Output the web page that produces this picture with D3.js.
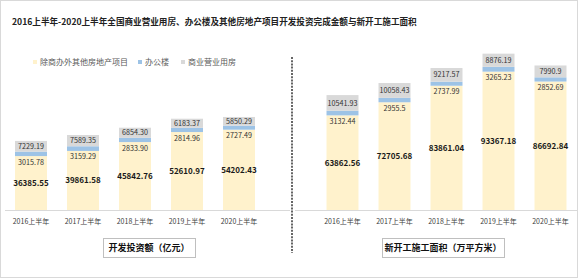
<!DOCTYPE html>
<html>
<head>
<meta charset="utf-8">
<script src="https://cdn.jsdelivr.net/npm/d3@7"></script>
<style>
  body { margin: 0; background: #fff; }
  svg { display: block; font-family: "Noto Sans CJK SC", "Noto Sans", sans-serif; }
</style>
</head>
<body>
<svg id="chart" width="580" height="280"></svg>
<script>
// categories
var years = [ '2016上半年', '2017上半年', '2018上半年', '2019上半年', '2020上半年' ];

// 开发投资额（亿元）
var investOther = [ 36385.55, 39861.58, 45842.76, 52610.97, 54202.43 ];
var investOffice = [ 3015.78, 3159.29, 2833.90, 2814.96, 2727.49 ];
var investShop = [ 7229.19, 7589.35, 6854.30, 6183.37, 5850.29 ];

// 新开工施工面积（万平方米）
var areaOther = [ 63862.56, 72705.68, 83861.04, 93367.18, 86692.84 ];
var areaOffice = [ 3132.44, 2955.5, 2737.99, 3265.23, 2852.69 ];
var areaShop = [ 10541.93, 10058.43, 9217.57, 8876.19, 7990.9 ];

var seriesNames = [ '除商办外其他房地产项目', '办公楼', '商业营业用房' ];
var colors = [ '#fff2cc', '#9dc3e6', '#d9d9d9' ];

var svg = d3.select( '#chart' );

// outer frame
svg.append( 'rect' )
	.attr( 'x', 0.5 ).attr( 'y', 0.5 )
	.attr( 'width', 577 ).attr( 'height', 277 )
	.attr( 'fill', '#fff' ).attr( 'stroke', '#d9d9d9' );

svg.append( 'text' )
	.attr( 'x', 12 ).attr( 'y', 25 )
	.attr( 'font-size', 8.6 ).attr( 'font-weight', 'bold' ).attr( 'fill', '#222' )
	.text( '2016上半年-2020上半年全国商业营业用房、办公楼及其他房地产项目开发投资完成金额与新开工施工面积' );

// legend
var legend = svg.append( 'g' ).attr( 'transform', 'translate(33,62)' );
var legX = [ 0, 105, 148 ];
seriesNames.forEach( function( _n, i ) {
	var g = legend.append( 'g' ).attr( 'transform', 'translate(' + legX[ i ] + ',0)' );
	g.append( 'rect' ).attr( 'x', 0 ).attr( 'y', -2 ).attr( 'width', 4 ).attr( 'height', 4 ).attr( 'fill', colors[ i ] );
	g.append( 'text' ).attr( 'x', 7 ).attr( 'y', 3 )
		.attr( 'font-size', 8 ).attr( 'fill', '#595959' ).text( _n );
} );

// shared value scale
var y = d3.scaleLinear().domain( [ 0, 110000 ] ).range( [ 210, 47 ] );

function drawPanel( _other, _office, _shop, _fmt, _range, _axisRange, _title, _box ) {
	var x = d3.scaleBand().domain( years ).range( _range ).paddingInner( 0.385 ).paddingOuter( 0.1925 );

	var rows = years.map( function( _y, i ) {
		return { year: _y, other: _other[ i ], office: _office[ i ], shop: _shop[ i ] };
	} );
	var stack = d3.stack().keys( [ 'other', 'office', 'shop' ] )( rows );

	var g = svg.append( 'g' );

	stack.forEach( function( _s, k ) {
		g.selectAll( null ).data( _s ).enter().append( 'rect' )
			.attr( 'x', function( _d ) { return x( _d.data.year ); } )
			.attr( 'y', function( _d ) { return y( _d[ 1 ] ); } )
			.attr( 'width', x.bandwidth() )
			.attr( 'height', function( _d ) { return y( _d[ 0 ] ) - y( _d[ 1 ] ); } )
			.attr( 'fill', colors[ k ] );
	} );

	// yellow segment labels, bold in the middle
	g.selectAll( null ).data( stack[ 0 ] ).enter().append( 'text' )
		.attr( 'x', function( _d ) { return x( _d.data.year ) + x.bandwidth() / 2; } )
		.attr( 'y', function( _d ) { return ( y( _d[ 0 ] ) + y( _d[ 1 ] ) ) / 2 + 3; } )
		.attr( 'text-anchor', 'middle' ).attr( 'font-size', 8 ).attr( 'font-weight', 'bold' ).attr( 'fill', '#1a1a1a' )
		.text( function( _d ) { return _fmt( _d.data.other ); } );

	// office labels just under the blue band
	g.selectAll( null ).data( stack[ 1 ] ).enter().append( 'text' )
		.attr( 'x', function( _d ) { return x( _d.data.year ) + x.bandwidth() / 2; } )
		.attr( 'y', function( _d ) { return y( _d[ 0 ] ) + 8.5; } )
		.attr( 'text-anchor', 'middle' ).attr( 'font-size', 7.2 ).attr( 'fill', '#333' )
		.text( function( _d ) { return _fmt( _d.data.office ); } );

	// shop labels inside the gray band
	g.selectAll( null ).data( stack[ 2 ] ).enter().append( 'text' )
		.attr( 'x', function( _d ) { return x( _d.data.year ) + x.bandwidth() / 2; } )
		.attr( 'y', function( _d ) { return ( y( _d[ 0 ] ) + y( _d[ 1 ] ) ) / 2 + 2.6; } )
		.attr( 'text-anchor', 'middle' ).attr( 'font-size', 7.2 ).attr( 'fill', '#333' )
		.text( function( _d ) { return _fmt( _d.data.shop ); } );

	// axis
	g.append( 'line' )
		.attr( 'x1', _axisRange[ 0 ] ).attr( 'x2', _axisRange[ 1 ] )
		.attr( 'y1', 210.5 ).attr( 'y2', 210.5 )
		.attr( 'stroke', '#d9d9d9' );

	var axis = g.append( 'g' ).attr( 'transform', 'translate(0,210)' )
		.call( d3.axisBottom( x ).tickSize( 0 ).tickPadding( 9 ) );
	axis.select( '.domain' ).remove();
	axis.selectAll( 'text' ).attr( 'font-size', 7 ).attr( 'fill', '#404040' )
		.attr( 'font-family', '"Noto Sans CJK SC", sans-serif' );

	// panel title box
	g.append( 'rect' )
		.attr( 'x', _box[ 0 ] + 1 ).attr( 'y', 239 )
		.attr( 'width', _box[ 1 ] - _box[ 0 ] ).attr( 'height', 19 )
		.attr( 'fill', '#e6e6e6' );
	g.append( 'rect' )
		.attr( 'x', _box[ 0 ] + 0.5 ).attr( 'y', 238.5 )
		.attr( 'width', _box[ 1 ] - _box[ 0 ] ).attr( 'height', 19 )
		.attr( 'fill', '#fff' ).attr( 'stroke', '#bfbfbf' );
	g.append( 'text' )
		.attr( 'x', ( _box[ 0 ] + _box[ 1 ] ) / 2 ).attr( 'y', 251 )
		.attr( 'text-anchor', 'middle' ).attr( 'font-size', 9 ).attr( 'font-weight', 'bold' ).attr( 'fill', '#111' )
		.text( _title );
}

drawPanel( investOther, investOffice, investShop, d3.format( '.2f' ), [ 5, 265 ], [ 5, 290 ], '开发投资额（亿元）', [ 103, 195 ] );
drawPanel( areaOther, areaOffice, areaShop, String, [ 316.5, 576.5 ], [ 295, 577 ], '新开工施工面积（万平方米）', [ 382, 504 ] );

// dashed divider
svg.append( 'line' )
	.attr( 'x1', 292 ).attr( 'x2', 292 )
	.attr( 'y1', 57 ).attr( 'y2', 253 )
	.attr( 'stroke', '#333' ).attr( 'stroke-width', 1.5 )
	.attr( 'stroke-dasharray', '2,1.2' );
</script>
</body>
</html>
